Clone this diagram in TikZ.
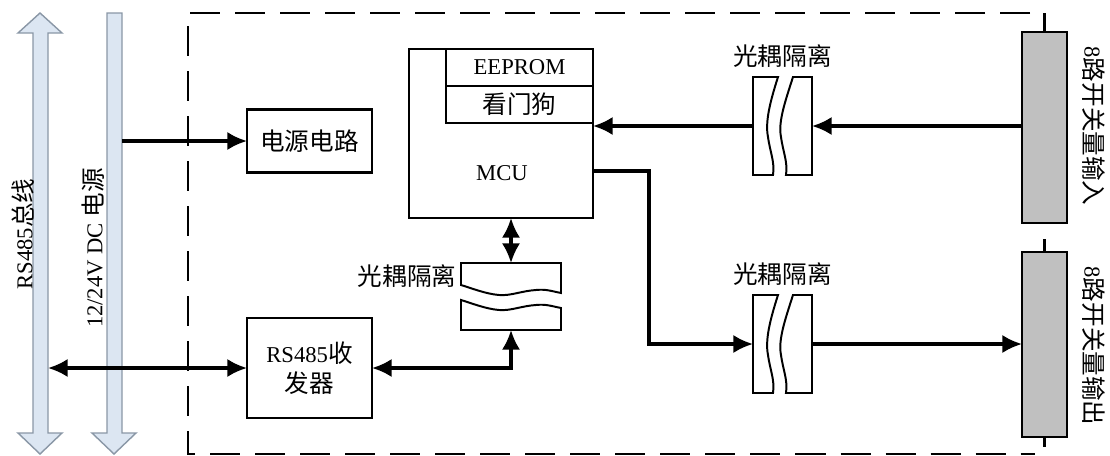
\documentclass[tikz,border=0pt]{standalone}
\usepackage{fontspec}
\setmainfont[Scale=0.92]{Liberation Serif}
\newfontfamily\cjkfont{Noto Sans CJK SC}
\usepackage{tikz}
\usetikzlibrary{arrows.meta}
\usetikzlibrary{calc}
\definecolor{busfill}{HTML}{DCE6F2}
\definecolor{busline}{HTML}{8A97A6}
\definecolor{portfill}{HTML}{C0C0C0}
\tikzstyle{box}=[rectangle, draw, line width=1.6pt, inner sep=2pt, outer sep=0pt]
\tikzstyle{row}=[box, minimum width=3.675cm, minimum height=0.925cm]
\tikzstyle{port}=[rectangle, draw, line width=1.6pt, fill=portfill, minimum width=1.125cm, outer sep=0pt]
\tikzstyle{opto}=[rectangle, inner sep=0pt, outer sep=0pt]
\tikzstyle{part}=[line width=1.4pt, fill=white]
\tikzstyle{bus}=[draw=busline, fill=busfill, line width=1pt]
\tikzstyle{frame}=[line width=1.5pt, dash pattern=on 0.75cm off 0.375cm]
\tikzstyle{tick}=[line width=1.5pt]
\tikzstyle{edge}=[line width=2.2pt, -{Latex[length=14pt,width=13pt]}]
\tikzstyle{dedge}=[line width=2.2pt, {Latex[length=14pt,width=13pt]}-{Latex[length=14pt,width=13pt]}]
\newcommand{\optov}[1]{%
	\begin{scope}[shift={(#1.north west)}]
		\draw[part] (0,0) -- (25,0) .. controls (17,25) and (12,45) .. (15,60) .. controls (17,75) and (22,85) .. (20,98) -- (0,98) -- cycle;
		\draw[part] (40,0) -- (59,0) -- (59,98) -- (33,98) .. controls (35,85) and (30,75) .. (28,60) .. controls (25,45) and (32,25) .. (40,0) -- cycle;
	\end{scope}}
\newcommand{\optoh}[1]{%
	\begin{scope}[shift={(#1.north west)}]
		\draw[part] (0,0) -- (100,0) -- (100,30) .. controls (90,28) and (85,26) .. (75,27) .. controls (60,28) and (50,33) .. (38,32) .. controls (25,31) and (10,25) .. (0,22) -- cycle;
		\draw[part] (0,37) .. controls (10,40) and (25,46) .. (38,47) .. controls (50,48) and (60,43) .. (75,42) .. controls (85,41) and (90,43) .. (100,45) -- (100,67) -- (0,67) -- cycle;
	\end{scope}}
\begin{document}
\begin{tikzpicture}[x=0.025cm, y=-0.025cm, font=\fontsize{17.5pt}{21pt}\selectfont]
	\useasboundingbox (0,0) rectangle (1110,455);
	\draw[bus] (40,13) -- (62,33) -- (48,33) -- (48,433) -- (62,433) -- (40,454) -- (18,433) -- (33,433) -- (33,33) -- (18,33) -- cycle;
	\draw[bus] (107,13) -- (122,13) -- (122,433) -- (136,433) -- (114,454) -- (92,433) -- (107,433) -- cycle;
	\draw (23,234) node[rotate=90] (rsbus) {RS485{\cjkfont 总线}};
	\draw (93,248) node[rotate=90] (dcbus) {12/24V DC {\cjkfont 电源}};
	\coordinate (pwr) at (122,141);
	\coordinate (rsb) at (48,368);
	\draw[frame] (1030,13) -- (188,13) -- (188,454) -- (1035,454);

	\draw (309.5,141) node[box, minimum width=3.125cm, minimum height=1.575cm] (psu) {\cjkfont 电源电路};
	\draw (309.5,368) node[box, minimum width=3.125cm, minimum height=2.5cm, align=center] (rs) {RS485{\cjkfont 收}\\{\cjkfont 发器}};
	\draw (501,133.5) node[box, minimum width=4.6cm, minimum height=4.225cm] (mcu) {};
	\draw (mcu.north east) node[row, anchor=north east] (eep) {EEPROM};
	\draw (eep.south east) node[row, anchor=north east] (wdg) {\cjkfont 看门狗};
	\draw (502,173) node (mcul) {MCU};

	\draw (782.5,126) node[opto, minimum width=1.475cm, minimum height=2.45cm] (oin) {};
	\draw (782.5,344) node[opto, minimum width=1.475cm, minimum height=2.45cm] (oout) {};
	\draw (511,296.5) node[opto, minimum width=2.5cm, minimum height=1.675cm] (oc) {};
	\optov{oin}
	\optov{oout}
	\optoh{oc}
	\draw (oin.north) node[above=0.12cm] (oinl) {\cjkfont 光耦隔离};
	\draw (oout.north) node[above=0.12cm] (ooutl) {\cjkfont 光耦隔离};
	\draw ($(oc.west)+(0,-20.5)$) node[anchor=east] (ocl) {\cjkfont 光耦隔离};

	\draw (1044.5,127.5) node[port, minimum height=4.775cm] (pin) {};
	\draw (1044.5,344.5) node[port, minimum height=4.625cm] (pout) {};
	\draw[tick] (pin.north) -- ++(0,-19);
	\draw[tick] (pout.north) -- ++(0,-13);
	\draw[tick] (pout.south) -- ++(0,10);
	\draw (1094,126) node[rotate=-90] (pinl) {8{\cjkfont 路开关量输入}};
	\draw (1094,346) node[rotate=-90] (poutl) {8{\cjkfont 路开关量输出}};

	\draw[edge] (pwr) -- (psu.west);
	\draw[dedge] (rsb) -- (rs.west);
	\draw[dedge] (mcu.south -| oc.north) -- (oc.north);
	\draw[dedge] (rs.east) -| (oc.south);
	\draw[edge] (pin.west |- oin.east) -- (oin.east);
	\draw[edge] (oin.west) -- (oin.west -| mcu.east);
	\draw[edge] ($(mcu.south east)+(0,-47)$) -- ++(56,0) |- (oout.west);
	\draw[edge] (oout.east) -- (pout.west |- oout.east);
\end{tikzpicture}
\end{document}
